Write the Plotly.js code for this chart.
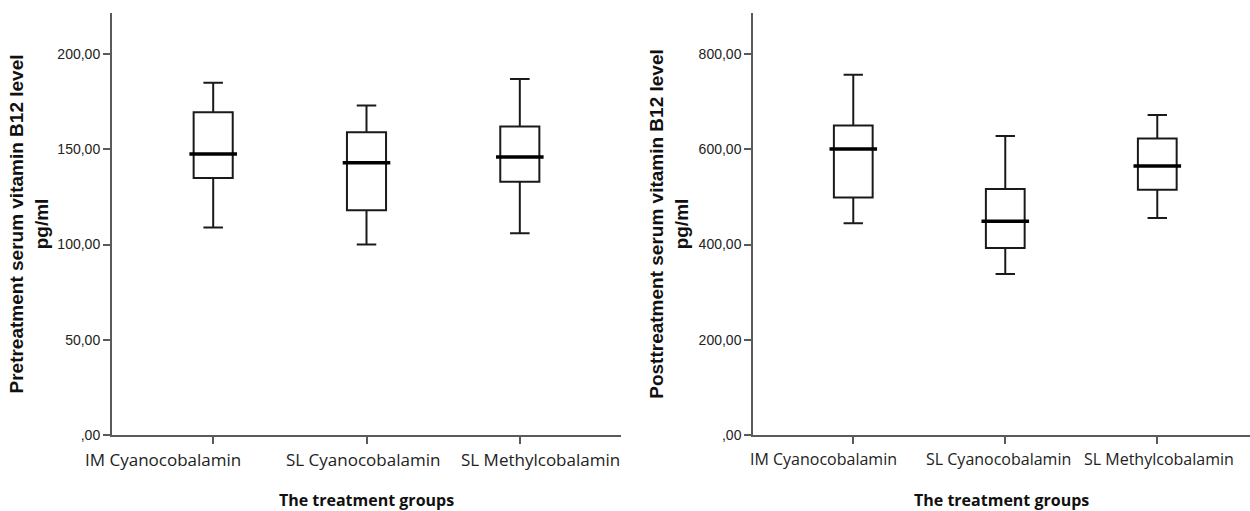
<!DOCTYPE html>
<html>
<head>
<meta charset="utf-8">
<script src="https://cdn.plot.ly/plotly-3.0.1.min.js"></script>
<style>html,body{margin:0;padding:0;background:#fff;}#chart{width:1250px;height:511px;}</style>
</head>
<body>
<div id="chart"></div>
<script>
// Categories
const groups = ["IM Cyanocobalamin", "SL Cyanocobalamin", "SL Methylcobalamin"];

// Pretreatment serum vitamin B12 (pg/ml) – box statistics
const preLower  = [109, 100, 106];
const preQ1     = [135, 118, 133];
const preMedian = [147.5, 143, 146];
const preQ3     = [169.5, 159, 162];
const preUpper  = [185, 173, 187];

// Posttreatment serum vitamin B12 (pg/ml) – box statistics
const postLower  = [445, 338, 456];
const postQ1     = [499, 393, 515];
const postMedian = [601, 449, 565];
const postQ3     = [650, 517, 623];
const postUpper  = [757, 628, 672];

// Tick labels
const preTickVals  = [0, 50, 100, 150, 200];
const preTickText  = [",00", "50,00", "100,00", "150,00", "200,00"];
const postTickVals = [0, 200, 400, 600, 800];
const postTickText = [",00", "200,00", "400,00", "600,00", "800,00"];

// layout: horizontal nudges of category labels (px), as laid out in the original
const leftLabelNudge  = [-50, -4, 21];
const rightLabelNudge = [-30, -7, 2];

const boxLine = {color: "#1a1a1a", width: 2};

function boxTrace(q1, med, q3, lo, hi, xa, ya) {
  return {
    type: "box", x: groups, q1: q1, median: med, q3: q3,
    lowerfence: lo, upperfence: hi,
    boxpoints: false, width: 0.255, whiskerwidth: 0.5,
    line: boxLine, fillcolor: "#ffffff",
    xaxis: xa, yaxis: ya, showlegend: false, hoverinfo: "skip"
  };
}
function medTrace(med, xa, ya) {
  return {
    type: "scatter", mode: "markers", x: groups, y: med,
    marker: {symbol: "line-ew", size: 34, line: {width: 3.5, color: "#000"}},
    xaxis: xa, yaxis: ya, showlegend: false, hoverinfo: "skip"
  };
}

const data = [
  boxTrace(preQ1, preMedian, preQ3, preLower, preUpper, "x", "y"),
  medTrace(preMedian, "x", "y"),
  boxTrace(postQ1, postMedian, postQ3, postLower, postUpper, "x2", "y2"),
  medTrace(postMedian, "x2", "y2")
];

const plotBottom = 0.1487;
function catLabels(xref, nudges, size) {
  return groups.map((g, i) => ({
    xref: xref, yref: "paper", x: g, y: plotBottom,
    xanchor: "center", yanchor: "top", yshift: -11, xshift: nudges[i],
    text: g, showarrow: false,
    font: {family: "Open Sans, sans-serif", size: size, color: "#222"}
  }));
}

const axisCommon = {
  showline: true, linecolor: "#5a5a5a", linewidth: 2,
  ticks: "outside", ticklen: 7, tickwidth: 2, tickcolor: "#5a5a5a",
  showgrid: false, zeroline: false, fixedrange: true
};
const xTitleFont = {family: "Open Sans, sans-serif", size: 16, color: "#111", weight: "bold"};
const yTitleFont = {family: "Liberation Sans, Arial, sans-serif", size: 19, color: "#111", weight: "bold"};
const yTickFont = {family: "Liberation Sans, Arial, sans-serif", size: 14, color: "#222"};

const layout = {
  width: 1250, height: 511,
  margin: {l: 0, r: 0, t: 0, b: 0},
  paper_bgcolor: "#fff", plot_bgcolor: "#fff",
  xaxis: Object.assign({}, axisCommon, {
    domain: [0.0896, 0.4968], anchor: "y", type: "category", range: [-0.66, 2.66],
    showticklabels: false,
    title: {text: "The treatment groups", font: xTitleFont, standoff: 52}
  }),
  yaxis: Object.assign({}, axisCommon, {
    domain: [plotBottom, 0.9746], anchor: "x", range: [0, 221.6],
    tickvals: preTickVals, ticktext: preTickText, tickfont: yTickFont,
    title: {text: "Pretreatment serum vitamin B12 level<br>pg/ml", font: yTitleFont, standoff: 4}
  }),
  xaxis2: Object.assign({}, axisCommon, {
    domain: [0.6026, 1], anchor: "y2", type: "category", range: [-0.658, 2.61],
    showticklabels: false,
    title: {text: "The treatment groups", font: xTitleFont, standoff: 52}
  }),
  yaxis2: Object.assign({}, axisCommon, {
    domain: [plotBottom, 0.9746], anchor: "x2", range: [0, 886.5],
    tickvals: postTickVals, ticktext: postTickText, tickfont: yTickFont,
    title: {text: "Posttreatment serum vitamin B12 level<br>pg/ml", font: yTitleFont, standoff: 5}
  }),
  annotations: catLabels("x", leftLabelNudge, 17).concat(catLabels("x2", rightLabelNudge, 16))
};

Plotly.newPlot("chart", data, layout, {displayModeBar: false, staticPlot: true});
</script>
</body>
</html>
